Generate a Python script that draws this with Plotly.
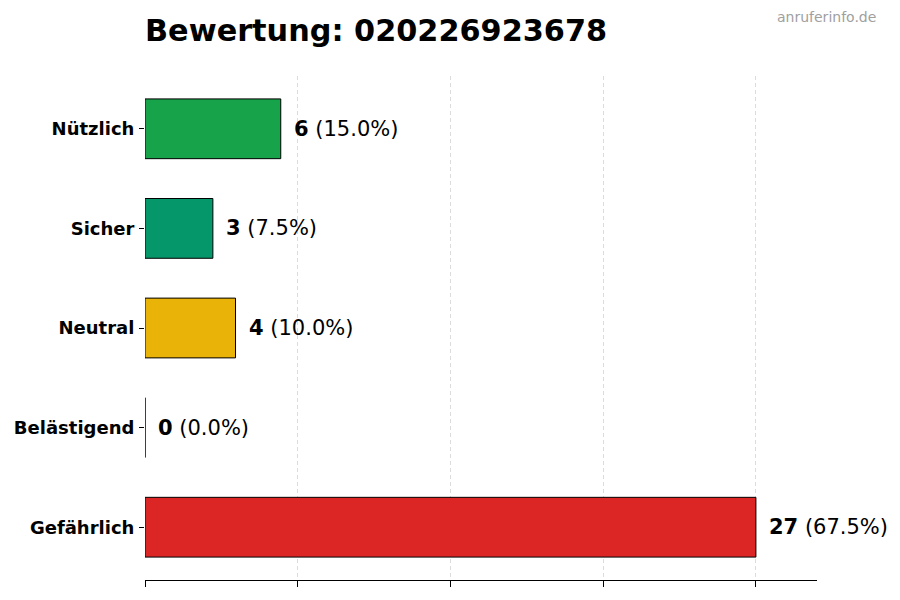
import plotly.graph_objects as go

categories = ["Nützlich", "Sicher", "Neutral", "Belästigend", "Gefährlich"]
counts = [6, 3, 4, 0, 27]
colors = ["#16a34a", "#059669", "#eab308", "#f97316", "#dc2626"]
title_text = "Bewertung: 020226923678"
watermark = "anruferinfo.de"

total = sum(counts)
xmax = max(counts) * 1.1
tickvals = [max(counts) * i / 4 for i in range(5)]

L, R, T, B = 145, 83, 76, 20
W, H = 900, 600
pw, ph = W - L - R, H - T - B

fig = go.Figure()
fig.add_trace(go.Bar(
    y=categories, x=counts, orientation="h",
    marker=dict(color=colors, line=dict(color="black", width=1)),
    width=0.6, hoverinfo="skip",
))

for cat, c in zip(categories, counts):
    pct = 100 * c / total
    fig.add_annotation(
        x=c, y=cat, xref="x", yref="y",
        text=f"<b>{c}</b> ({pct:.1f}%)",
        showarrow=False, xanchor="left", yanchor="middle",
        xshift=11, font=dict(family="DejaVu Sans", size=21, color="black"),
    )

fig.update_layout(
    width=W, height=H,
    margin=dict(l=L, r=R, t=T, b=B),
    plot_bgcolor="white", paper_bgcolor="white",
    showlegend=False,
    title=dict(text=f"<b>{title_text}</b>", x=L / W, xanchor="left",
               y=1 - 30 / H, yanchor="middle",
               font=dict(family="DejaVu Sans", size=30.3, color="black")),
    xaxis=dict(range=[0, xmax], tickvals=tickvals, showticklabels=False,
               ticks="outside", ticklen=6, tickcolor="black",
               showline=True, linecolor="black", linewidth=1,
               showgrid=True, gridcolor="#dcdcdc", griddash="4px,3px", gridwidth=1,
               zeroline=False, fixedrange=True),
    yaxis=dict(categoryorder="array", categoryarray=categories,
               range=[4.53, -0.53], ticks="outside", ticklen=5, tickcolor="black",
               showline=False, showgrid=False, zeroline=False,
               tickfont=dict(family="DejaVu Sans", size=18, color="black"),
               ticklabelstandoff=1, fixedrange=True),
    font=dict(family="DejaVu Sans"),
)
fig.update_yaxes(ticktext=[f"<b>{c}</b>" for c in categories], tickvals=categories)

fig.add_annotation(
    x=(878 - L) / pw, y=(H - B - 17) / ph, xref="paper", yref="paper",
    text=watermark, showarrow=False, xanchor="right", yanchor="middle",
    font=dict(family="DejaVu Sans", size=14, color="#a0a0a0"),
)

fig.write_html("out.html", config={"displayModeBar": False},
               post_script="document.body.style.margin='0';")
